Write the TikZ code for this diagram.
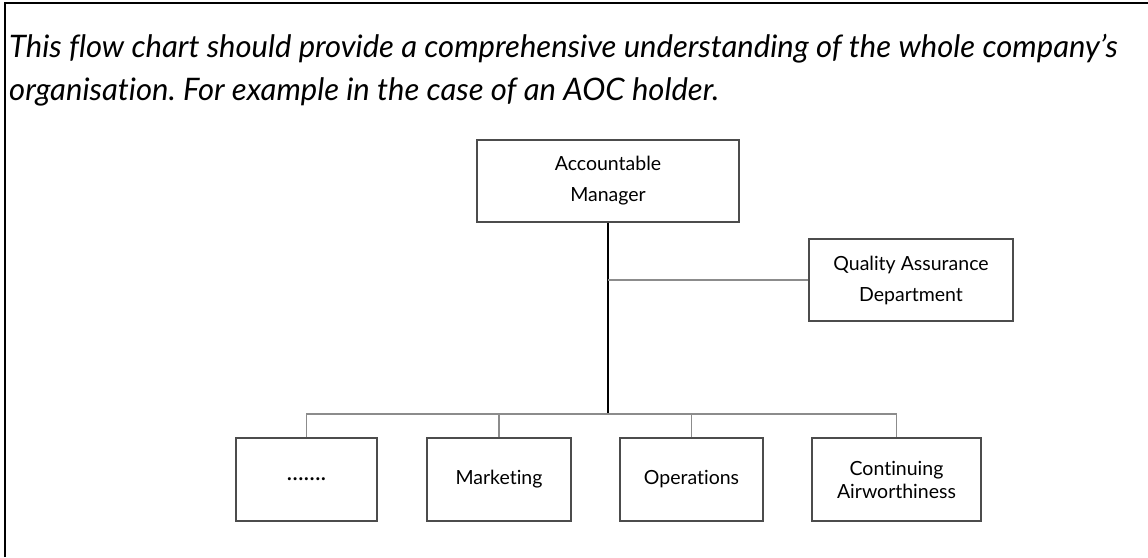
\documentclass[tikz,border=0pt]{standalone}
\usepackage{fontspec}
\setmainfont{Lato}[Ligatures={NoCommon}]
\begin{document}
\frenchspacing
\begin{tikzpicture}[x=1pt,y=-1pt,
  orgbox/.style={draw=black!70, line width=1.1pt, fill=white, align=center, inner sep=0pt,
    minimum height=83pt, font=\fontsize{19.5}{31}\selectfont},
  bus/.style={draw=black!45, line width=1.2pt},
  stem/.style={draw=black, line width=1.2pt},
  titletext/.style={anchor=base west, inner sep=0pt, font=\fontsize{31}{43}\selectfont\itshape}
]
\useasboundingbox (0,0) rectangle (1148,557);
\draw[line width=2.5pt] (5,557) -- (5,3) -- (1148,3);
\node[titletext] (t1) at (9,57) {This flow chart should provide a comprehensive understanding of the whole company's};
\node[titletext] (t2) at (9,100) {organisation. For example in the case of an AOC holder.};

\node[orgbox, minimum width=262pt, minimum height=82pt] (am) at (608,181) {Accountable\\Manager};
\node[orgbox, minimum width=204pt, minimum height=82pt] (qa) at (911,280) {Quality Assurance\\Department};
\node[orgbox, minimum width=141pt, font=\fontsize{24}{31}\selectfont] (dots) at (306.5,479.5) {.......};
\node[orgbox, minimum width=144pt] (mkt) at (499,479.5) {Marketing};
\node[orgbox, minimum width=143pt] (ops) at (691.5,479.5) {Operations};
\node[orgbox, minimum width=169pt, font=\fontsize{19.5}{23}\selectfont] (ca) at (896.5,479.5) {Continuing\\Airworthiness};

\coordinate (busc) at (608,414);
\draw[stem] (am.south) -- (busc);
\draw[bus] (am.south |- qa.west) -- (qa.west);
\draw[bus] (dots.north) -- (dots.north |- busc) -- (ca.north |- busc) -- (ca.north);
\draw[bus] (mkt.north) -- (mkt.north |- busc);
\draw[bus] (ops.north) -- (ops.north |- busc);
\end{tikzpicture}
\end{document}
